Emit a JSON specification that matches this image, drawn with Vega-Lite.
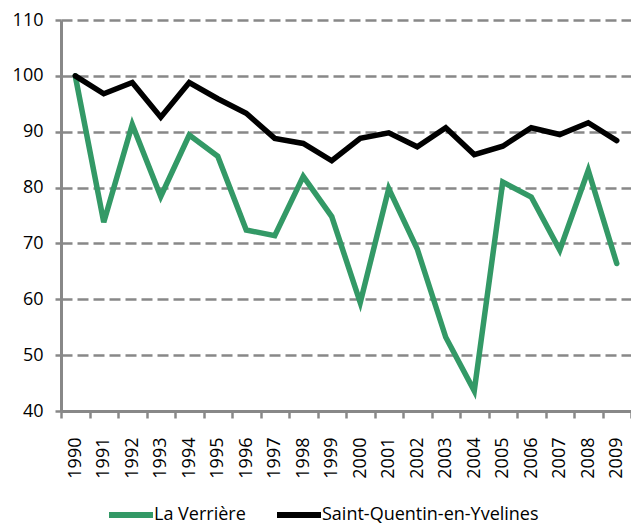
{
  "$schema": "https://vega.github.io/schema/vega-lite/v6.json",
  "width": 570,
  "height": 391,
  "autosize": {"type": "none"},
  "padding": {"left": 61, "top": 20, "right": 0, "bottom": 113},
  "background": "white",
  "config": {
    "view": {"stroke": null},
    "font": "Open Sans"
  },
  "data": {
    "values": [
      {"year": "1990", "series": "La Verrière", "value": 100},
      {"year": "1991", "series": "La Verrière", "value": 73.8},
      {"year": "1992", "series": "La Verrière", "value": 91.3},
      {"year": "1993", "series": "La Verrière", "value": 78.4},
      {"year": "1994", "series": "La Verrière", "value": 89.4},
      {"year": "1995", "series": "La Verrière", "value": 85.6},
      {"year": "1996", "series": "La Verrière", "value": 72.4},
      {"year": "1997", "series": "La Verrière", "value": 71.4},
      {"year": "1998", "series": "La Verrière", "value": 82},
      {"year": "1999", "series": "La Verrière", "value": 74.8},
      {"year": "2000", "series": "La Verrière", "value": 59.4},
      {"year": "2001", "series": "La Verrière", "value": 79.8},
      {"year": "2002", "series": "La Verrière", "value": 69},
      {"year": "2003", "series": "La Verrière", "value": 53.2},
      {"year": "2004", "series": "La Verrière", "value": 43.6},
      {"year": "2005", "series": "La Verrière", "value": 81},
      {"year": "2006", "series": "La Verrière", "value": 78.3},
      {"year": "2007", "series": "La Verrière", "value": 68.8},
      {"year": "2008", "series": "La Verrière", "value": 83.1},
      {"year": "2009", "series": "La Verrière", "value": 66.4},
      {"year": "1990", "series": "Saint-Quentin-en-Yvelines", "value": 100},
      {"year": "1991", "series": "Saint-Quentin-en-Yvelines", "value": 96.8},
      {"year": "1992", "series": "Saint-Quentin-en-Yvelines", "value": 98.8},
      {"year": "1993", "series": "Saint-Quentin-en-Yvelines", "value": 92.6},
      {"year": "1994", "series": "Saint-Quentin-en-Yvelines", "value": 98.8},
      {"year": "1995", "series": "Saint-Quentin-en-Yvelines", "value": 95.9},
      {"year": "1996", "series": "Saint-Quentin-en-Yvelines", "value": 93.3},
      {"year": "1997", "series": "Saint-Quentin-en-Yvelines", "value": 88.8},
      {"year": "1998", "series": "Saint-Quentin-en-Yvelines", "value": 87.9},
      {"year": "1999", "series": "Saint-Quentin-en-Yvelines", "value": 84.8},
      {"year": "2000", "series": "Saint-Quentin-en-Yvelines", "value": 88.8},
      {"year": "2001", "series": "Saint-Quentin-en-Yvelines", "value": 89.8},
      {"year": "2002", "series": "Saint-Quentin-en-Yvelines", "value": 87.3},
      {"year": "2003", "series": "Saint-Quentin-en-Yvelines", "value": 90.7},
      {"year": "2004", "series": "Saint-Quentin-en-Yvelines", "value": 85.9},
      {"year": "2005", "series": "Saint-Quentin-en-Yvelines", "value": 87.4},
      {"year": "2006", "series": "Saint-Quentin-en-Yvelines", "value": 90.7},
      {"year": "2007", "series": "Saint-Quentin-en-Yvelines", "value": 89.5},
      {"year": "2008", "series": "Saint-Quentin-en-Yvelines", "value": 91.6},
      {"year": "2009", "series": "Saint-Quentin-en-Yvelines", "value": 88.4}
    ]
  },
  "mark": {"type": "line", "strokeWidth": 5.5, "strokeJoin": "miter", "strokeCap": "round"},
  "encoding": {
    "x": {
      "field": "year",
      "type": "ordinal",
      "bandPosition": 0.5,
      "scale": {"type": "band", "paddingInner": 0, "paddingOuter": 0},
      "axis": {
        "title": null,
        "labelAngle": -90,
        "labelFontSize": 18,
        "labelColor": "#000000",
        "labelPadding": 19,
        "tickBand": "extent",
        "tickColor": "#888888",
        "tickWidth": 2.5,
        "tickSize": 7,
        "domainColor": "#888888",
        "domainWidth": 3,
        "grid": false
      }
    },
    "y": {
      "field": "value",
      "type": "quantitative",
      "scale": {"domain": [40, 110], "nice": false, "zero": false},
      "axis": {
        "title": null,
        "values": [40, 50, 60, 70, 80, 90, 100, 110],
        "labelFontSize": 18,
        "labelColor": "#000000",
        "labelPadding": 12,
        "tickColor": "#888888",
        "tickWidth": 2.5,
        "tickSize": 6,
        "domainColor": "#888888",
        "domainWidth": 3,
        "grid": true,
        "gridColor": "#888888",
        "gridWidth": 2.5,
        "gridDash": [11, 5]
      }
    },
    "color": {
      "field": "series",
      "type": "nominal",
      "scale": {
        "domain": ["La Verrière", "Saint-Quentin-en-Yvelines"],
        "range": ["#339966", "#000000"]
      },
      "legend": {
        "title": null,
        "orient": "none",
        "legendX": 45,
        "legendY": 470,
        "direction": "horizontal",
        "symbolType": "stroke",
        "symbolSize": 1936,
        "symbolStrokeWidth": 6,
        "labelFontSize": 18,
        "labelColor": "#000000",
        "labelOffset": -2,
        "labelLimit": 0,
        "columnPadding": 19
      }
    }
  }
}
